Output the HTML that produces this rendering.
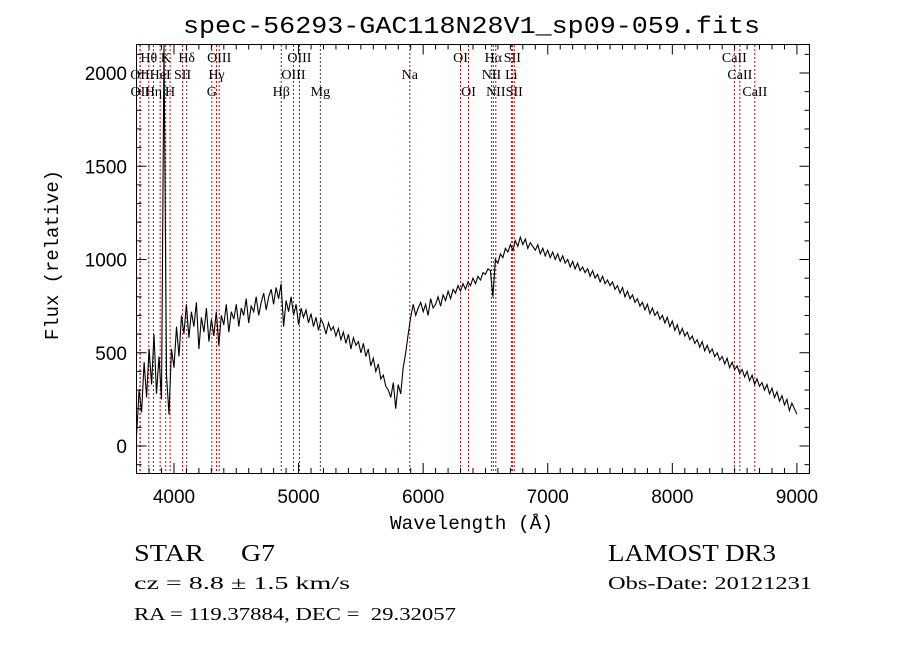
<!DOCTYPE html>
<html><head><meta charset="utf-8"><style>
body{margin:0;background:#fff}
svg{display:block}
text{font-family:"Liberation Serif",serif;fill:#000}
</style></head><body>
<svg id="c" width="900" height="649" viewBox="0 0 900 649">
<text x="183" y="33" font-size="24" textLength="577" lengthAdjust="spacingAndGlyphs" style="font-family:'Liberation Mono',monospace">spec-56293-GAC118N28V1_sp09-059.fits</text>
<g id="lines"></g>
<g id="axes"></g>
<g id="labels"></g>
<path id="spec" fill="none" stroke="#000" stroke-width="1.1"/>
<rect x="136.5" y="44.5" width="673" height="429" fill="none" stroke="#000" stroke-width="1"/>
<text x="390" y="529" font-size="19" textLength="163" lengthAdjust="spacingAndGlyphs" style="font-family:'Liberation Mono',monospace">Wavelength (Å)</text>
<text transform="translate(58,340) rotate(-90)" font-size="19" textLength="170" lengthAdjust="spacingAndGlyphs" style="font-family:'Liberation Mono',monospace">Flux (relative)</text>
<text x="134" y="561" font-size="24" textLength="70" lengthAdjust="spacingAndGlyphs">STAR</text>
<text x="241" y="561" font-size="24" textLength="34" lengthAdjust="spacingAndGlyphs">G7</text>
<text x="608" y="561" font-size="24" textLength="168" lengthAdjust="spacingAndGlyphs">LAMOST DR3</text>
<text x="134" y="589" font-size="18" textLength="216" lengthAdjust="spacingAndGlyphs">cz = 8.8 ± 1.5 km/s</text>
<text x="608" y="589" font-size="18" textLength="204" lengthAdjust="spacingAndGlyphs">Obs-Date: 20121231</text>
<text x="134" y="620" font-size="18" textLength="322" lengthAdjust="spacingAndGlyphs" xml:space="preserve">RA = 119.37884, DEC =  29.32057</text>
</svg>
<script>
const startWave=3700;
const waveStep=20;
const fluxes=[60,300,180,450,260,520,330,600,280,480,
250,2150,380,170,520,420,640,480,700,600,
760,580,720,640,770,520,690,610,740,560,
680,590,720,540,700,650,760,610,720,680,
760,640,740,700,790,660,750,720,800,700,
770,820,730,800,840,760,850,790,870,640,
780,720,800,700,760,650,740,690,730,660,
710,640,690,620,680,650,600,660,620,640,
590,630,570,610,550,600,520,580,540,560,
500,550,480,520,430,470,400,440,360,380,
320,300,260,340,200,330,280,420,500,600,
690,760,700,740,770,720,760,700,790,740,
760,800,750,810,780,830,790,840,820,860,
830,870,840,880,860,900,870,910,890,930,
920,950,940,800,1000,980,1030,1010,1060,1040,
1080,1050,1100,1070,1120,1080,1110,1060,1090,1070,
1050,1080,1030,1060,1020,1050,1010,1040,1000,1030,
990,1020,980,1000,960,990,950,980,940,960,
930,950,910,940,900,920,880,910,870,890,
860,880,840,860,820,850,800,830,790,810,
770,790,750,770,730,760,710,740,700,720,
680,700,660,690,640,670,620,650,600,630,
590,610,570,590,550,570,530,560,510,540,
500,520,480,500,460,480,440,470,420,450,
410,430,390,410,370,400,350,380,330,360,
320,340,300,330,280,310,260,290,240,270,
220,250,190,230,200,170];
const yTicks=[0,500,1000,1500,2000];
const xTicks=[4000,5000,6000,7000,8000,9000];
const lineNames=["OII","OII","Hθ","Hη","HeI","K","H","SII","Hδ","G","Hγ","OIII","Hβ","OIII","OIII","Mg","Na","OI","OI","NII","Hα","NII","Li","SII","SII","CaII","CaII","CaII"];
const lineWaves=[3727,3729,3798,3835,3889,3934,3969,4069,4102,4304,4341,4363,4861,4959,5007,5175,5893,6300,6364,6548,6563,6583,6708,6716,6731,8498,8542,8662];
const lineRows=[1,2,0,2,1,0,2,1,0,2,1,0,2,1,0,2,1,0,2,1,0,2,1,0,2,0,1,2];
const NS="http://www.w3.org/2000/svg";
const X0=136.6,X1=809.5,W0=3700,W1=9101,Y0=446,YS=0.1865;
const sx=w=>X0+(w-W0)*(X1-X0)/(W1-W0);
const sy=f=>Y0-f*YS;
const clampY=y=>Math.max(44.5,Math.min(473,y));
function mk(tag,attrs,parent){const e=document.createElementNS(NS,tag);for(const k in attrs)e.setAttribute(k,attrs[k]);parent.appendChild(e);return e;}
let d="";
fluxes.forEach((f,i)=>{const w=startWave+i*waveStep;d+=(i?"L":"M")+sx(w).toFixed(1)+" "+clampY(sy(f)).toFixed(1);});
document.getElementById("spec").setAttribute("d",d);
const axes=document.getElementById("axes");
for(let w=3800;w<=9100;w+=100){
  const x=sx(w);const major=w%1000===0;const L=major?10:5;
  const t1=mk("line",{x1:x,x2:x,y1:473,y2:473-L,stroke:"#000"},axes);
  
  
  const t2=mk("line",{x1:x,x2:x,y1:44.5,y2:44.5+L,stroke:"#000"},axes);
  
  
}
xTicks.forEach(v=>{
  const t=mk("text",{x:sx(v),y:503,"font-size":"19","text-anchor":"middle",style:"font-family:'Liberation Sans',sans-serif"},axes);
  t.textContent=v;
  
  
});
for(let f=-100;f<=2100;f+=100){
  const y=sy(f);const major=f%500===0;const L=major?10:5;
  const t1=mk("line",{x1:136.5,x2:136.5+L,y1:y,y2:y,stroke:"#000"},axes);
  
  
  const t2=mk("line",{x1:809.5,x2:809.5-L,y1:y,y2:y,stroke:"#000"},axes);
  
  
}
yTicks.forEach(v=>{
  const t=mk("text",{x:127,y:sy(v)+7,"font-size":"19","text-anchor":"end",style:"font-family:'Liberation Sans',sans-serif"},axes);
  t.textContent=v;
  
  
});
const lg=document.getElementById("lines"),lb=document.getElementById("labels");
const blackLines=["K","Hδ","Mg","Hα"];
lineWaves.forEach((w,i)=>{
  const x=sx(w);
  const col=blackLines.includes(lineNames[i])?"#444":"#c00";
  const l=mk("line",{x1:x,x2:x,y1:45,y2:473,stroke:col,"stroke-width":"1","stroke-dasharray":"2,2"},lg);
  
  
  const t=mk("text",{x:x,y:62+lineRows[i]*17,"font-size":"14","text-anchor":"middle"},lb);
  t.textContent=lineNames[i];
  
  
});
</script>
</body></html>
